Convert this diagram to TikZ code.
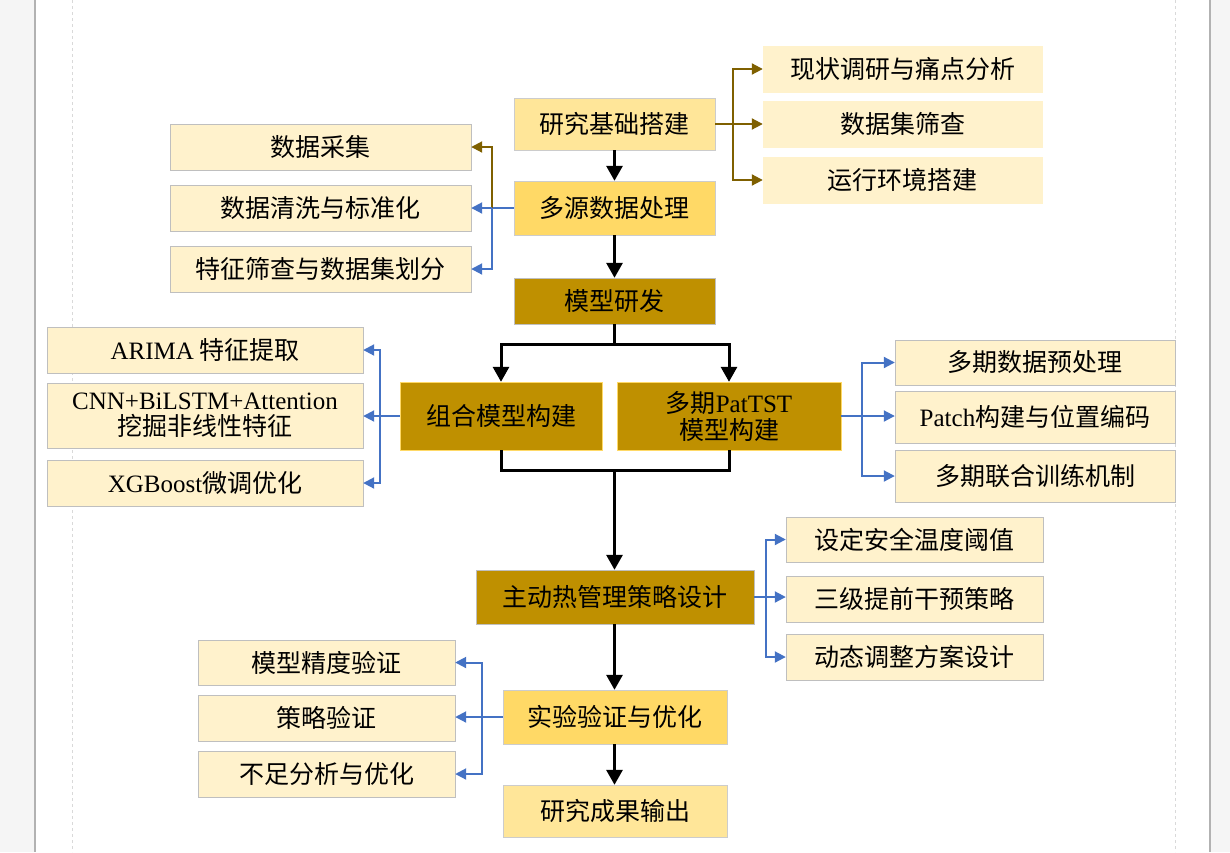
\documentclass[tikz,border=0pt]{standalone}
\usepackage{fontspec}
\setmainfont{Noto Sans CJK SC}
\newfontfamily\latf{Liberation Serif}
\newcommand{\lat}[1]{{\latf #1}}
\usetikzlibrary{arrows.meta}
\definecolor{dgold}{HTML}{BF9000}
\definecolor{lgold}{HTML}{FFF2CC}
\definecolor{mgold}{HTML}{FFD966}
\definecolor{pgold}{HTML}{FFE699}
\definecolor{brn}{HTML}{7F6000}
\definecolor{blu}{HTML}{4472C4}
\begin{document}
\begin{tikzpicture}[x=1pt,y=-1pt,
  box/.style={draw=#1,minimum width=0pt,inner sep=0pt,font=\fontsize{25}{29}\selectfont,align=center},
  lb/.style={box=gray!50,fill=lgold},
  lbn/.style={box=lgold,fill=lgold},
  mb/.style={box=gray!40,fill=mgold},
  pb/.style={box=gray!40,fill=pgold},
  db/.style={box=gray!50,fill=dgold},
  dbo/.style={box=mgold,fill=dgold},
  ba/.style={draw=blu,line width=2pt,-{Triangle[width=11pt,length=11pt]}},
  bl/.style={draw=blu,line width=2pt},
  na/.style={draw=brn,line width=2pt,-{Triangle[width=11pt,length=11pt]}},
  nl/.style={draw=brn,line width=2pt},
  ka/.style={draw=black,line width=3pt,-{Triangle[width=16pt,length=15pt]}},
  kl/.style={draw=black,line width=3pt}]
\useasboundingbox (0,0) rectangle (1230,852);
\fill[gray!8] (0,0) rectangle (35,852);
\fill[gray!8] (1210,0) rectangle (1230,852);
\draw[gray!60,line width=1.2pt] (35,0) -- (35,852);
\draw[gray!60,line width=1.2pt] (1210,0) -- (1210,852);
\draw[gray!30,dashed] (72,0) -- (72,852);
\draw[gray!30,dashed] (1175,0) -- (1175,852);
\newcommand{\bx}[6]{\node[#1,minimum width={#4-#2},minimum height={#5-#3}] (#6) at ({(#2+#4)/2},{(#3+#5)/2})}
\bx{pb}{514}{98}{715}{150}{jc} {研究基础搭建};
\bx{lbn}{763}{46}{1042}{92}{r1} {现状调研与痛点分析};
\bx{lbn}{763}{101}{1042}{147}{r2} {数据集筛查};
\bx{lbn}{763}{157}{1042}{203}{r3} {运行环境搭建};
\bx{mb}{514}{181}{715}{235}{dy} {多源数据处理};
\bx{lb}{170}{124}{471}{170}{l1} {数据采集};
\bx{lb}{170}{185}{471}{231}{l2} {数据清洗与标准化};
\bx{lb}{170}{246}{471}{292}{l3} {特征筛查与数据集划分};
\bx{db}{514}{278}{715}{324}{mx} {模型研发};
\bx{dbo}{400}{382}{602}{450}{zh} {组合模型构建};
\bx{dbo}{617}{382}{841}{450}{pt} {多期\lat{PatTST}\\[-2pt]模型构建};
\bx{lb}{47}{327}{363}{373}{a1} {\lat{ARIMA} 特征提取};
\bx{lb}{47}{383}{363}{448}{a2} {\lat{CNN+BiLSTM+Attention}\\[-3pt]挖掘非线性特征};
\bx{lb}{47}{460}{363}{506}{a3} {\lat{XGBoost}微调优化};
\bx{lb}{895}{340}{1175}{385}{p1} {多期数据预处理};
\bx{lb}{895}{391}{1175}{443}{p2} {\lat{Patch}构建与位置编码};
\bx{lb}{895}{450}{1175}{502}{p3} {多期联合训练机制};
\bx{db}{476}{570}{754}{624}{zd} {主动热管理策略设计};
\bx{lb}{786}{517}{1043}{562}{s1} {设定安全温度阈值};
\bx{lb}{786}{576}{1043}{622}{s2} {三级提前干预策略};
\bx{lb}{786}{634}{1043}{680}{s3} {动态调整方案设计};
\bx{mb}{503}{690}{727}{744}{sy} {实验验证与优化};
\bx{lb}{198}{640}{455}{685}{v1} {模型精度验证};
\bx{lb}{198}{695}{455}{741}{v2} {策略验证};
\bx{lb}{198}{751}{455}{797}{v3} {不足分析与优化};
\bx{pb}{503}{785}{727}{837}{cg} {研究成果输出};
% top right brown
\coordinate (b1) at ([xshift=18pt]jc.east);
\draw[nl] (jc.east) -- (b1);
\draw[na] (b1) |- (r1.west);
\draw[na] (b1) -- (r2.west |- b1);
\draw[na] (b1) |- (r3.west);
% left of dy
\coordinate (b2) at ([xshift=-22pt]dy.west);
\draw[bl] (dy.west) -- (b2);
\draw[na] (b2) |- (l1.east);
\draw[ba] (b2) -- (l2.east |- b2);
\draw[ba] (b2) |- (l3.east);
% main black
\draw[ka] (jc.south) -- (dy.north);
\draw[ka] (dy.south) -- (mx.north);
\coordinate (m1) at ([yshift=-20pt]mx.south);
\draw[kl] (mx.south) -- (m1);
\draw[ka] (m1) -| (zh.north);
\draw[ka] (m1) -| (pt.north);
\coordinate (m2) at (mx.south |- 0,470);
\draw[kl] (zh.south) |- (m2);
\draw[kl] (pt.south) |- (m2);
\draw[ka] (m2) -- (m2 |- zd.north);
\draw[ka] (m2 |- zd.south) -- (m2 |- sy.north);
\draw[ka] (m2 |- sy.south) -- (m2 |- cg.north);
% zh left
\coordinate (b3) at ([xshift=-20pt]zh.west);
\draw[bl] (zh.west) -- (b3);
\draw[ba] (b3) |- (a1.east);
\draw[ba] (b3) -- (a2.east |- b3);
\draw[ba] (b3) |- (a3.east);
% pt right
\coordinate (b4) at ([xshift=21pt]pt.east);
\draw[bl] (pt.east) -- (b4);
\draw[ba] (b4) |- (p1.west);
\draw[ba] (b4) -- (p2.west |- b4);
\draw[ba] (b4) |- (p3.west);
% zd right
\coordinate (b5) at ([xshift=12pt]zd.east);
\draw[bl] (zd.east) -- (b5);
\draw[ba] (b5) |- (s1.west);
\draw[ba] (b5) -- (s2.west |- b5);
\draw[ba] (b5) |- (s3.west);
% sy left
\coordinate (b6) at ([xshift=-21pt]sy.west);
\draw[bl] (sy.west) -- (b6);
\draw[ba] (b6) |- (v1.east);
\draw[ba] (b6) -- (v2.east |- b6);
\draw[ba] (b6) |- (v3.east);
\end{tikzpicture}
\end{document}
